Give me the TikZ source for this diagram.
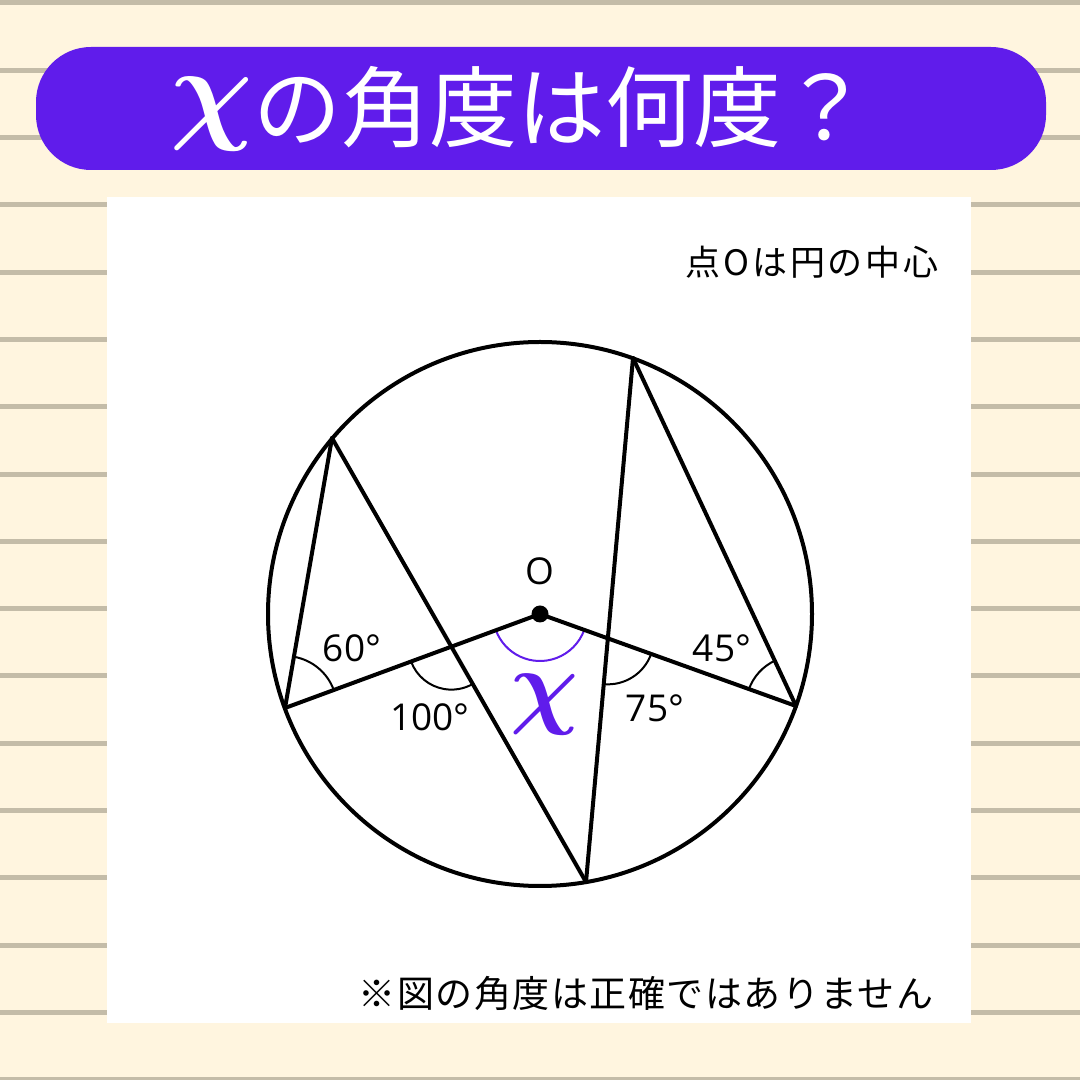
\documentclass[tikz,border=0pt]{standalone}
\usepackage{fontspec}
\usepackage{bm}
\setmainfont{Open Sans}
\newfontfamily\jpfont{Noto Sans CJK JP}
\usetikzlibrary{angles}
\definecolor{paper}{RGB}{255,245,223}
\definecolor{rule}{RGB}{196,188,168}
\definecolor{headviolet}{RGB}{96,28,235}
\newcommand{\bigchi}[1]{{\fontsize{10}{12}\selectfont\scalebox{#1}{$\bm{\chi}$}}}
\tikzset{
  figline/.style={line width=4pt, line cap=round},
  anglemark/.style={draw, line width=2pt},
  deglabel/.style={font=\fontsize{37}{40}\selectfont},
}
\begin{document}
\begin{tikzpicture}[x=1pt, y=1pt]
  \useasboundingbox (0,0) rectangle (1080,1080);
  \fill[paper] (0,0) rectangle (1080,1080);
  \foreach \k in {0,...,16}
    \fill[rule] (0,{1080-3-67.3*\k-2.5}) rectangle (1080,{1080-3-67.3*\k+2.5});

  % header and panel
  \fill[headviolet, rounded corners=55pt] (36,910) rectangle (1046,1033);
  \node[text=white, font=\fontsize{88}{92}\selectfont] (title) at (520,971)
    {\raisebox{12pt}{\bigchi{11.5}}\jpfont の角度は何度？};
  \fill[white] (107,57) rectangle (971,883);
  \node[anchor=east, font=\jpfont\fontsize{35}{38}\selectfont\addfontfeatures{LetterSpace=8}] (note) at (942,818)
    {点Oは円の中心};
  \node[anchor=east, font=\jpfont\fontsize{37}{40}\selectfont\addfontfeatures{LetterSpace=4}] (warn) at (937,87)
    {※図の角度は正確ではありません};

  % points
  \coordinate (O) at (540,466);
  \coordinate (A) at (332,642);
  \coordinate (B) at (285,372);
  \coordinate (C) at (586,198);
  \coordinate (D) at (633,722);
  \coordinate (E) at (796,374);
  \coordinate (P) at (intersection of A--C and B--O);
  \coordinate (Q) at (intersection of D--C and O--E);

  % angle marks
  \pic[anglemark, angle radius=52pt] {angle = O--B--A};
  \pic[anglemark, angle radius=43pt] {angle = B--P--C};
  \pic[anglemark, draw=headviolet, angle radius=47pt] {angle = B--O--E};
  \pic[anglemark, angle radius=46pt] {angle = C--Q--E};
  \pic[anglemark, angle radius=50pt] {angle = D--E--O};

  \draw[line width=4pt] (O) circle (272);
  \draw[figline] (A) -- (B);
  \draw[figline] (A) -- (C);
  \draw[figline] (B) -- (O);
  \draw[figline] (O) -- (E);
  \draw[figline] (D) -- (C);
  \draw[figline] (D) -- (E);
  \fill (O) circle (8.5);

  % labels
  \node[deglabel] (lo)   at (540,509) {O};
  \node[deglabel] (l60)  at (352,432) {60°};
  \node[deglabel] (l100) at (430,363) {100°};
  \node[deglabel] (l75)  at (655,372) {75°};
  \node[deglabel] (l45)  at (722,432) {45°};
  \node[text=headviolet] (lx) at (545,375) {\bigchi{9.5}};
\end{tikzpicture}
\end{document}
